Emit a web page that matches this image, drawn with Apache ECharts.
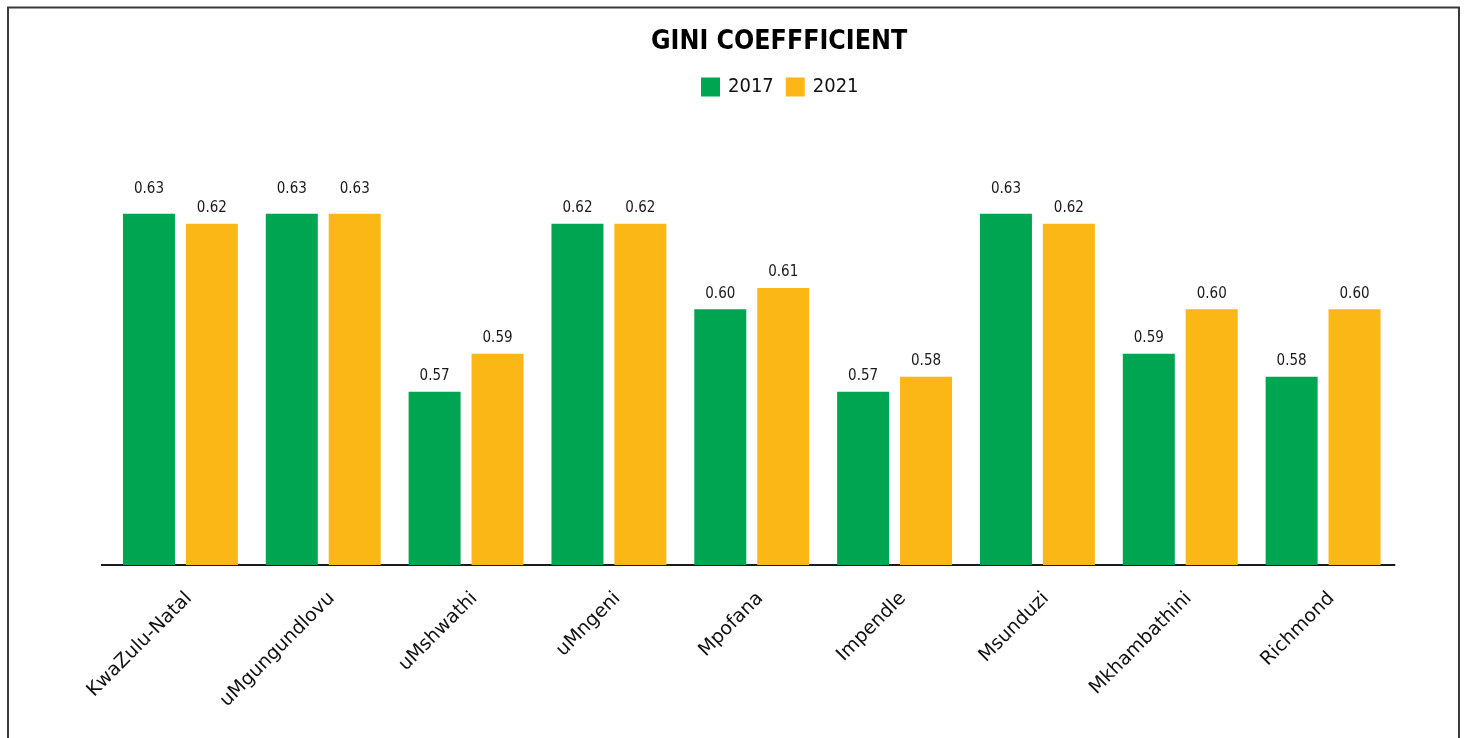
<!DOCTYPE html>
<html>
<head>
<meta charset="utf-8">
<title>Gini coefficient</title>
<script src="https://cdn.jsdelivr.net/npm/echarts@6/dist/echarts.min.js"></script>
<style>
  html, body { margin: 0; padding: 0; background: #ffffff; }
  #chart { width: 1464px; height: 738px; }
</style>
</head>
<body>
<div id="chart"></div>
<script>
// Municipalities and district totals
const categories = ['KwaZulu-Natal', 'uMgungundlovu', 'uMshwathi', 'uMngeni', 'Mpofana',
                    'Impendle', 'Msunduzi', 'Mkhambathini', 'Richmond'];
const seriesNames = ['2017', '2021'];
// Gini coefficient per area
const gini2017 = [0.630, 0.630, 0.5745, 0.6247, 0.5992, 0.5745, 0.630, 0.5859, 0.5790];
const gini2021 = [0.6247, 0.630, 0.5859, 0.6247, 0.6055, 0.5790, 0.6247, 0.5992, 0.5992];

// value axis range; bars reaching past the top are cut at the plot edge
const Y_MIN = 0.5228;
const Y_MAX = 0.6277;

const GREEN = '#00A551';
const YELLOW = '#FBB715';
const FONT_C = '"DejaVu Sans Condensed", "DejaVu Sans", sans-serif';
const FONT = '"DejaVu Sans", sans-serif';

const chart = echarts.init(document.getElementById('chart'), null, { renderer: 'canvas' });

const valueLabel = {
  show: true,
  position: 'top',
  distance: 8,
  color: '#1a1a1a',
  fontFamily: FONT_C,
  fontSize: 15,
  formatter: p => p.value.toFixed(2)
};

// labels of cut bars keep sitting above where the full bar would end
function barData(values) {
  return values.map(v => v > Y_MAX
    ? { value: v, label: { distance: 17 } }
    : v);
}

chart.setOption({
  animation: false,
  backgroundColor: '#ffffff',
  title: {
    text: 'GINI COEFFFICIENT',
    left: 651,
    top: 29,
    padding: 0,
    textStyle: {
      fontFamily: FONT_C,
      fontWeight: 'bold',
      fontSize: 26.5,
      color: '#000000'
    }
  },
  legend: {
    data: seriesNames,
    left: 701,
    top: 77,
    padding: 0,
    itemWidth: 19,
    itemHeight: 19,
    itemGap: 12,
    icon: 'rect',
    textStyle: {
      fontFamily: FONT_C,
      fontSize: 20,
      color: '#111111',
      padding: [0, 0, 0, 3]
    }
  },
  grid: {
    left: 109,
    right: 69.5,
    top: 213.7,
    bottom: 173,
    containLabel: false
  },
  xAxis: {
    type: 'category',
    data: categories,
    axisLine: { show: true, lineStyle: { color: '#1a1a1a', width: 2 } },
    axisTick: { show: false },
    axisLabel: {
      rotate: 45,
      margin: 22,
      interval: 0,
      align: 'right',
      verticalAlign: 'top',
      lineHeight: 24,
      color: '#111111',
      fontFamily: FONT,
      fontSize: 19
    }
  },
  yAxis: {
    type: 'value',
    min: Y_MIN,
    max: Y_MAX,
    show: false,
    splitLine: { show: false }
  },
  series: [
    {
      name: seriesNames[0],
      type: 'bar',
      data: barData(gini2017),
      clip: true,
      barWidth: 52,
      barGap: '21%',
      itemStyle: { color: GREEN },
      label: valueLabel
    },
    {
      name: seriesNames[1],
      type: 'bar',
      data: barData(gini2021),
      clip: true,
      barWidth: 52,
      barGap: '21%',
      itemStyle: { color: YELLOW },
      label: valueLabel
    }
  ],
  graphic: [
    {
      // outer frame around the chart
      type: 'rect',
      shape: { x: 8, y: 7.5, width: 1451, height: 800 },
      style: { fill: 'none', stroke: '#3a3a3a', lineWidth: 2 },
      silent: true
    },
    {
      // short run of baseline to the left of the first category
      type: 'line',
      shape: { x1: 101, y1: 565, x2: 110, y2: 565 },
      style: { stroke: '#1a1a1a', lineWidth: 2 },
      silent: true
    }
  ]
});
</script>
</body>
</html>
